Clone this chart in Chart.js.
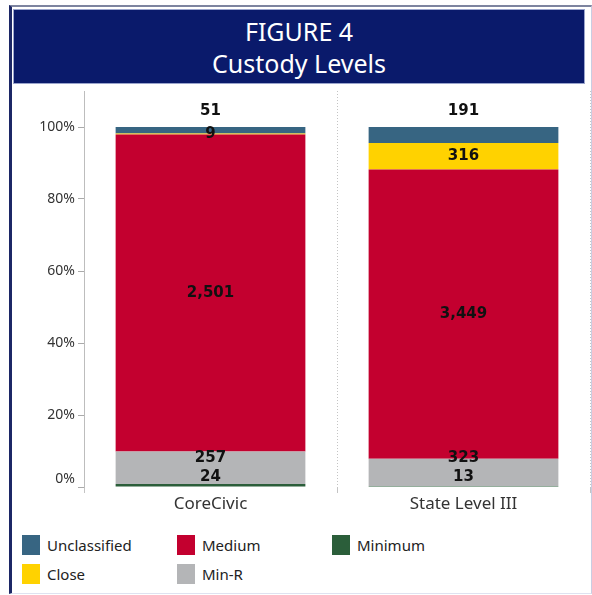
<!DOCTYPE html>
<html>
<head>
<meta charset="utf-8">
<script src="https://cdn.jsdelivr.net/npm/chart.js@4"></script>
<style>
  body { margin: 0; background: #fff; font-family: "Noto Sans", sans-serif; }
  #page { position: relative; width: 592px; height: 595px; overflow: hidden; }
  #frame { position: absolute; left: 9px; top: 5px; width: 579px; height: 586px;
    border-left: 3px solid #1c2766; border-top: 2px solid #7d849f;
    border-right: 1px solid #c9cde2; border-bottom: 1px solid #dfe2f0; }
  #title { position: absolute; left: 13px; top: 9px; width: 570px;
    background: #0a1a6b; border: 1px solid #9aa4cc; color: #fff; text-align: center;
    font-size: 25px; line-height: 32px; padding-top: 5px; height: 68px; }
  #wrap { position: absolute; left: 13px; top: 86px; width: 579px; height: 430px; }
  #legend { position: absolute; left: 22px; top: 535px; display: grid;
    grid-template-columns: 155px 155px 155px; grid-auto-rows: 29px; }
  .item { display: flex; align-items: flex-start; font-size: 15px; color: #222; }
  .box { width: 18px; height: 20px; margin-right: 7px; }
  .item span { line-height: 20px; }
</style>
</head>
<body>
<div id="page">
  <div id="frame"></div>
  <div id="title">FIGURE 4<br>Custody Levels</div>
  <div id="wrap"><canvas id="custodyChart"></canvas></div>
  <div id="legend"></div>
</div>
<script>
const categories = ["CoreCivic", "State Level III"];
const unclassified = [51, 191];
const close = [9, 316];
const medium = [2501, 3449];
const minR = [257, 323];
const minimum = [24, 13];
const yTicks = [0, 20, 40, 60, 80, 100];

// bottom to top stacking order
const series = [
  { label: "Minimum", data: minimum, color: "#2b5e3a" },
  { label: "Min-R", data: minR, color: "#b4b5b7" },
  { label: "Medium", data: medium, color: "#c3002f" },
  { label: "Close", data: close, color: "#ffd200" },
  { label: "Unclassified", data: unclassified, color: "#376582" },
];

const totals = categories.map((c, i) => series.reduce((s, d) => s + d.data[i], 0));

// draws the counts on each segment, pushes crowded ones upward
const segmentLabels = {
  id: "segmentLabels",
  afterDatasetsDraw(chart) {
    const ctx = chart.ctx;
    const bottom = chart.chartArea.bottom;
    ctx.save();
    ctx.font = "bold 15px 'DejaVu Sans'";
    ctx.fillStyle = "#111";
    ctx.textAlign = "center";
    ctx.textBaseline = "middle";
    categories.forEach((c, i) => {
      let prevY = Infinity;
      chart.data.datasets.forEach((ds, di) => {
        const bar = chart.getDatasetMeta(di).data[i];
        const text = series[di].data[i].toLocaleString("en-US");
        let y;
        if (di === chart.data.datasets.length - 1) {
          y = bar.y - 16;
        } else {
          y = Math.min((bar.y + bar.base) / 2, bottom - 10, prevY - 19);
        }
        prevY = y;
        ctx.fillText(text, bar.x, y);
      });
    });
    ctx.restore();
  }
};

const custodyChart = () => {
  new Chart(document.getElementById("custodyChart"), {
    type: "bar",
    data: {
      labels: categories,
      datasets: series.map(s => ({
        label: s.label,
        data: s.data.map((v, i) => v / totals[i] * 100),
        backgroundColor: s.color,
        borderWidth: 0,
        barPercentage: 0.75,
        categoryPercentage: 1,
      })),
    },
    options: {
      responsive: false,
      animation: false,
      layout: { padding: { top: 5, right: 2, left: 0, bottom: 0 } },
      plugins: { legend: { display: false }, tooltip: { enabled: false } },
      scales: {
        x: {
          stacked: true,
          offset: true,
          grid: { display: true, offset: true, color: "#c4c4c4", tickLength: 6, drawOnChartArea: true },
          border: { display: false, dash: [1, 2] },
          ticks: { color: "#333", font: { family: "Noto Sans", size: 17 }, padding: 1 },
          afterFit: s => { s.height = 29; },
        },
        y: {
          stacked: true,
          min: 0,
          max: 110,
          afterBuildTicks: s => { s.ticks = yTicks.map(v => ({ value: v })); },
          afterFit: s => { s.width = 71; s.paddingTop = 0; s.paddingBottom = 0; },
          grid: { drawOnChartArea: false, tickLength: 6, color: "#aaa" },
          border: { display: true, color: "#bdbdbd", dash: [1, 2] },
          ticks: {
            color: "#333",
            padding: 3,
            font: { family: "Noto Sans", size: 14 },
            callback: v => v === 0 ? ["0%", ""] : v + "%",
          },
        },
      },
    },
    plugins: [segmentLabels],
  });
};

// legend laid out column by column, top of stack first
const legendOrder = [4, 2, 0, 3, 1];
document.getElementById("legend").innerHTML = legendOrder.map(k =>
  `<div class="item"><div class="box" style="background:${series[k].color}"></div><span>${series[k].label}</span></div>`
).join("");

document.getElementById("custodyChart").width = 579;
document.getElementById("custodyChart").height = 430;
window.addEventListener("load", custodyChart);
</script>
</body>
</html>
